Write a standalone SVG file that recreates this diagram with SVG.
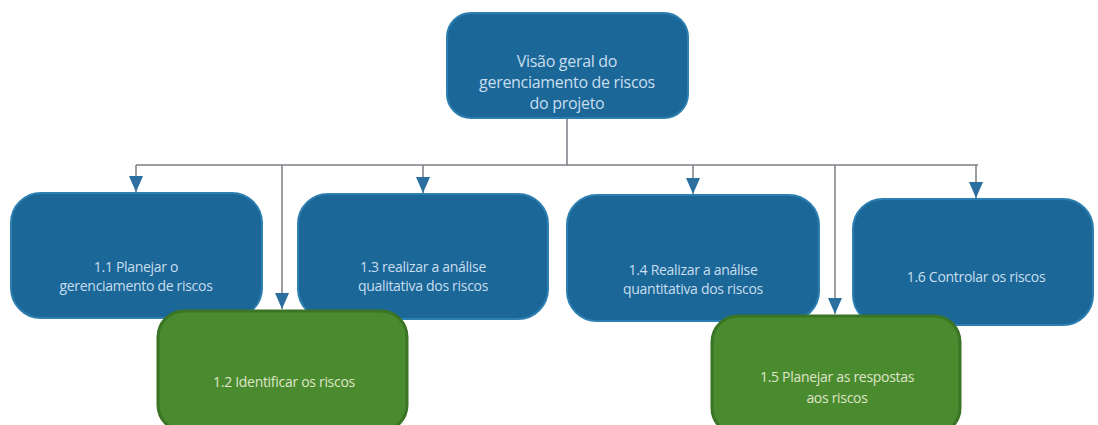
<svg xmlns="http://www.w3.org/2000/svg" width="1098" height="425" viewBox="0 0 1098 425">
<style>
.blue{fill:#1b6797;stroke:#2c7fb0;stroke-width:2}
.green{fill:#4b8b2f;stroke:#3a7424;stroke-width:3}
.t{font-family:"Open Sans","Liberation Sans",sans-serif;font-size:14px;fill:#c9def0;text-anchor:middle;letter-spacing:-0.3px}
.tg{fill:#dfe5c8}
.big{font-size:16px}
.ln{stroke:#7a7f85;stroke-width:1.5;fill:none}
</style>
<defs>
<marker id="ah" viewBox="0 0 16 14" refX="16" refY="7" markerWidth="16" markerHeight="14" markerUnits="userSpaceOnUse" orient="auto">
<path d="M0,0 L16,7 L0,14 Z" fill="#2a6f9f"/>
</marker>
</defs>
<rect width="1098" height="425" fill="#ffffff"/>
<g id="connectors">
<path class="ln" d="M567,118 V165"/>
<path class="ln" d="M136,165 H978"/>
<path class="ln" d="M136,165 V192" marker-end="url(#ah)"/>
<path class="ln" d="M282,165 V309" marker-end="url(#ah)"/>
<path class="ln" d="M423,165 V193" marker-end="url(#ah)"/>
<path class="ln" d="M693,165 V194" marker-end="url(#ah)"/>
<path class="ln" d="M835,165 V314" marker-end="url(#ah)"/>
<path class="ln" d="M976,165 V198" marker-end="url(#ah)"/>
</g>
<g id="n0">
<rect class="blue" x="447" y="13" width="241" height="105" rx="24"/>
<text class="t big" x="567" y="67">Visão geral do</text>
<text class="t big" x="567" y="88">gerenciamento de riscos</text>
<text class="t big" x="567" y="109">do projeto</text>
</g>
<g id="n11">
<rect class="blue" x="11" y="193" width="251" height="125" rx="30"/>
<text class="t" x="136" y="272">1.1 Planejar o</text>
<text class="t" x="136" y="291">gerenciamento de riscos</text>
</g>
<g id="n13">
<rect class="blue" x="298" y="194" width="250" height="125" rx="30"/>
<text class="t" x="423" y="272">1.3 realizar a análise</text>
<text class="t" x="423" y="291">qualitativa dos riscos</text>
</g>
<g id="n14">
<rect class="blue" x="567" y="195" width="252" height="126" rx="30"/>
<text class="t" x="693" y="275">1.4 Realizar a análise</text>
<text class="t" x="693" y="294">quantitativa dos riscos</text>
</g>
<g id="n16">
<rect class="blue" x="853" y="199" width="240" height="126" rx="30"/>
<text class="t" x="976" y="282">1.6 Controlar os riscos</text>
</g>
<g id="n12">
<rect class="green" x="158" y="311" width="249" height="120" rx="26"/>
<text class="t tg" x="284" y="387">1.2 Identificar os riscos</text>
</g>
<g id="n15">
<rect class="green" x="712" y="316" width="248" height="118" rx="26"/>
<text class="t tg" x="837" y="382">1.5 Planejar as respostas</text>
<text class="t tg" x="837" y="403">aos riscos</text>
</g>
</svg>
